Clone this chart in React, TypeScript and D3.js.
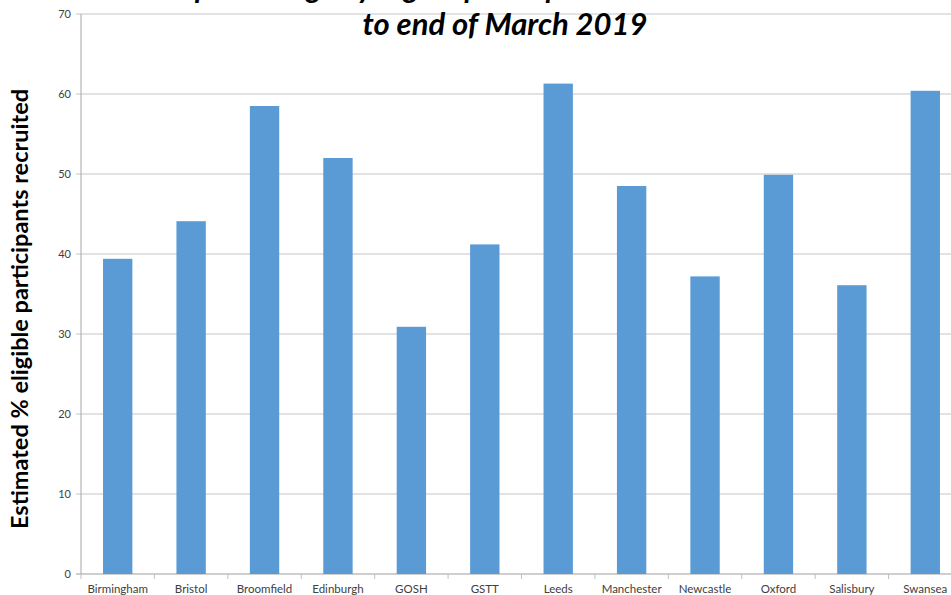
import React from "react";
import * as d3 from "d3";

const categories = ["Birmingham", "Bristol", "Broomfield", "Edinburgh", "GOSH", "GSTT", "Leeds", "Manchester", "Newcastle", "Oxford", "Salisbury", "Swansea"];
const values = [39.4, 44.1, 58.5, 52.0, 30.9, 41.2, 61.3, 48.5, 37.2, 49.9, 36.1, 60.4];
const yTicks = [0, 10, 20, 30, 40, 50, 60, 70];
const titleLine1 = "Overall percentage by region participants consented";
const titleLine2 = "to end of March 2019";
const yTitle = "Estimated % eligible participants recruited";

const W = 951, H = 595;
const M = { left: 81, top: 14, right: 962, bottom: 574 };

export default function App() {
  const x = d3.scaleBand<string>().domain(categories).range([M.left, M.right]).paddingInner(0.6).paddingOuter(0.3);
  const y = d3.scaleLinear().domain([0, 70]).range([M.bottom, M.top]);
  const bounds = d3.range(categories.length + 1).map(i => M.left + i * (M.right - M.left) / categories.length);
  return (
    <svg width={W} height={H} style={{ position: "absolute", left: 0, top: 0, background: "#fff" }}>
      {yTicks.map(t => (
        <g key={t}>
          <line x1={M.left - 5} x2={W + 20} y1={y(t)} y2={y(t)} stroke={t === 0 ? "#bfbfbf" : "#d9d9d9"} strokeWidth={1.3} />
          <text x={M.left - 10} y={y(t)} dy="0.35em" textAnchor="end" fontFamily="Lato, 'Open Sans', sans-serif" fontSize={11} fill="#404040">{t}</text>
        </g>
      ))}
      <line x1={M.left} x2={M.left} y1={M.top} y2={M.bottom} stroke="#a6a6a6" strokeWidth={1} />
      {bounds.map((b, i) => (
        <line key={i} x1={b} x2={b} y1={M.bottom} y2={M.bottom + 5} stroke="#bfbfbf" strokeWidth={1} />
      ))}
      {categories.map((c, i) => (
        <rect key={c} x={x(c)} y={y(values[i])} width={x.bandwidth()} height={y(0) - y(values[i])} fill="#5B9BD5" />
      ))}
      {categories.map(c => (
        <text key={c} x={(x(c) as number) + x.bandwidth() / 2} y={593} textAnchor="middle" fontFamily="Lato, 'Open Sans', sans-serif" fontSize={11.5} fill="#404040">{c}</text>
      ))}
      <text transform={`translate(28, 309) rotate(-90)`} textAnchor="middle" fontFamily="Lato, 'Open Sans', sans-serif" fontWeight="bold" fontSize={23.5} fill="#000">{yTitle}</text>
      <text x={425} y={-2} textAnchor="middle" fontFamily="Lato, 'Open Sans', sans-serif" fontWeight="bold" fontStyle="italic" fontSize={30} fill="#000">{titleLine1}</text>
      <text x={505} y={35} textAnchor="middle" fontFamily="Lato, 'Open Sans', sans-serif" fontWeight="bold" fontStyle="italic" fontSize={31} fill="#000">{titleLine2}</text>
    </svg>
  );
}
